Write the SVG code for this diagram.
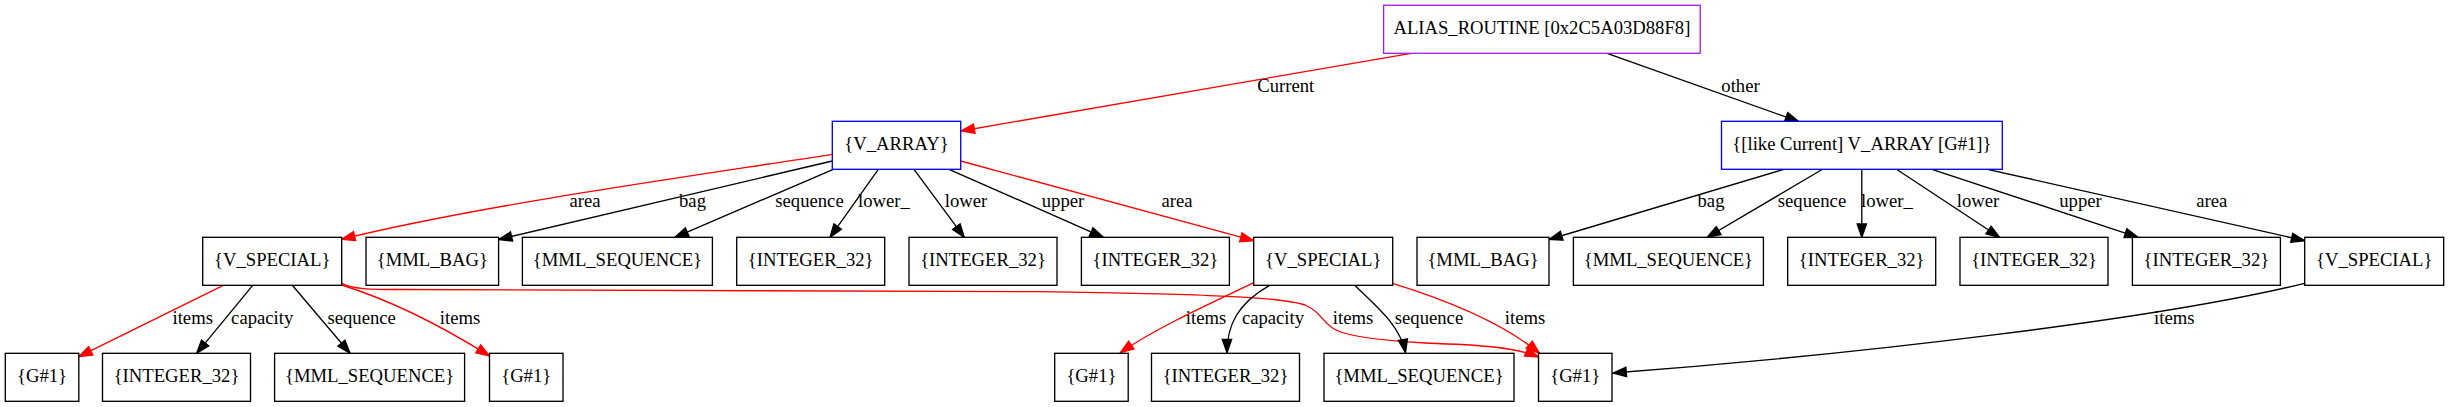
<svg xmlns="http://www.w3.org/2000/svg" width="2449" height="407" viewBox="0 0 2449 407">
<style>
  .n rect { fill: #ffffff; stroke: #000000; stroke-width: 1.33; }
  .n.blue rect { stroke: #0000ff; }
  .n.purple rect { stroke: #a020f0; }
  text { font-family: "Liberation Serif", "Times New Roman", serif; font-size: 18.67px; fill: #000000; }
  .n text { text-anchor: middle; }
  .lbl { text-anchor: middle; }
  .e { fill: none; stroke: #000000; stroke-width: 1.33; marker-end: url(#ab); }
  .e.r { stroke: #ff0000; marker-end: url(#ar); }
</style>
<defs>
  <marker id="ab" markerUnits="userSpaceOnUse" markerWidth="16" markerHeight="12" viewBox="-1 -1 16 12" refX="13.3" refY="5" orient="auto" overflow="visible">
    <path d="M0,0.33 L13.3,5 L0,9.67 Z" fill="#000000" stroke="#000000" stroke-width="1.33"/>
  </marker>
  <marker id="ar" markerUnits="userSpaceOnUse" markerWidth="16" markerHeight="12" viewBox="-1 -1 16 12" refX="13.3" refY="5" orient="auto" overflow="visible">
    <path d="M0,0.33 L13.3,5 L0,9.67 Z" fill="#ff0000" stroke="#ff0000" stroke-width="1.33"/>
  </marker>
</defs>
<rect x="0" y="0" width="2449" height="407" fill="#ffffff"/>

<g id="edges">
  <g id="e_current"><path class="e r" d="M1411.2,53.3 L961.2,131"/><text class="lbl" x="1285.7" y="91.7">Current</text></g>
  <g id="e_other"><path class="e" d="M1607.1,53.3 L1798.7,121.5"/><text class="lbl" x="1740.5" y="91.7">other</text></g>

  <g id="e_va_area1"><path class="e r" d="M832.3,154.3 C700,175 480,205 341.7,239.3"/><text class="lbl" x="585" y="207">area</text></g>
  <g id="e_va_bag"><path class="e" d="M832.3,161 L498.6,239.5"/><text class="lbl" x="692.5" y="207">bag</text></g>
  <g id="e_va_seq"><path class="e" d="M833.3,169.3 L675,237.3"/><text class="lbl" x="809.5" y="207">sequence</text></g>
  <g id="e_va_lower_"><path class="e" d="M878.3,169.3 L830,237.3"/><text class="lbl" x="884" y="207">lower_</text></g>
  <g id="e_va_lower"><path class="e" d="M914,169.3 L964.3,237.3"/><text class="lbl" x="966" y="207">lower</text></g>
  <g id="e_va_upper"><path class="e" d="M949,169.3 L1103.3,237.3"/><text class="lbl" x="1063" y="207">upper</text></g>
  <g id="e_va_area2"><path class="e r" d="M960.7,161 L1253.7,240.7"/><text class="lbl" x="1177" y="207">area</text></g>

  <g id="e_lc_bag"><path class="e" d="M1783.9,169.3 L1549,239.5"/><text class="lbl" x="1711" y="207">bag</text></g>
  <g id="e_lc_seq"><path class="e" d="M1822.5,169.3 L1707.2,237.3"/><text class="lbl" x="1812" y="207">sequence</text></g>
  <g id="e_lc_lower_"><path class="e" d="M1861.8,169.3 L1861.8,237.3"/><text class="lbl" x="1887" y="207">lower_</text></g>
  <g id="e_lc_lower"><path class="e" d="M1896.5,169.3 L1999.6,237.3"/><text class="lbl" x="1978" y="207">lower</text></g>
  <g id="e_lc_upper"><path class="e" d="M1931.9,169.3 L2138.1,237.3"/><text class="lbl" x="2080.5" y="207">upper</text></g>
  <g id="e_lc_area"><path class="e" d="M1987.4,169.3 L2304.7,240.7"/><text class="lbl" x="2211.7" y="207">area</text></g>

  <g id="e_vs1_items1"><path class="e r" d="M223.3,285.3 L78.8,356.7"/><text class="lbl" x="192.7" y="323.5">items</text></g>
  <g id="e_vs1_cap"><path class="e" d="M252.7,285.3 L196.7,353.3"/><text class="lbl" x="262.2" y="323.5">capacity</text></g>
  <g id="e_vs1_seq"><path class="e" d="M292.3,285.3 L350,353.3"/><text class="lbl" x="361.7" y="323.5">sequence</text></g>
  <g id="e_vs1_items2"><path class="e r" d="M341.7,285 C390,300 440,325 489.5,356"/><text class="lbl" x="460" y="323.5">items</text></g>
  <g id="e_vs1_items3"><path class="e r" d="M341.7,283.3 C352,289 370,289.5 400,289.5 L1040,291.7 C1180,294 1280,296 1305,305 C1322,312 1322,323 1336,330 C1352,338 1390,341 1425,343 C1480,345 1515,347 1538.5,357"/><text class="lbl" x="1353" y="323.5">items</text></g>

  <g id="e_vs2_items1"><path class="e r" d="M1253.7,282.7 C1225,297 1160,325 1120.4,352.7"/><text class="lbl" x="1206" y="323.5">items</text></g>
  <g id="e_vs2_cap"><path class="e" d="M1269.6,285.3 C1238,303 1227,325 1227,352.7"/><text class="lbl" x="1273" y="323.5">capacity</text></g>
  <g id="e_vs2_seq"><path class="e" d="M1354.6,285.3 C1375,305 1400,325 1405.5,352.7"/><text class="lbl" x="1429" y="323.5">sequence</text></g>
  <g id="e_vs2_items2"><path class="e r" d="M1392.7,283.3 C1440,298 1500,320 1539.4,353.3"/><text class="lbl" x="1525" y="323.5">items</text></g>

  <g id="e_vs3_items"><path class="e" d="M2304.7,283.3 C2155,320 1850,355 1613,373"/><text class="lbl" x="2174.3" y="323.5">items</text></g>
</g>

<g id="nodes">
  <g id="n_alias" class="n purple"><rect x="1383.6" y="5.3" width="316.6" height="48"/><text x="1541.9" y="34.2">ALIAS_ROUTINE [0x2C5A03D88F8]</text></g>
  <g id="n_varray" class="n blue"><rect x="832.3" y="121.3" width="128.4" height="48"/><text x="896.5" y="150.2">{V_ARRAY}</text></g>
  <g id="n_likecurrent" class="n blue"><rect x="1721.5" y="121.3" width="280.8" height="48"/><text x="1861.9" y="150.2">{[like Current] V_ARRAY [G#1]}</text></g>

  <g id="n_vs1" class="n"><rect x="202.7" y="237.3" width="139" height="48"/><text x="272.2" y="266.2">{V_SPECIAL}</text></g>
  <g id="n_bag1" class="n"><rect x="366" y="237.3" width="132.6" height="48"/><text x="432.3" y="266.2">{MML_BAG}</text></g>
  <g id="n_seq1" class="n"><rect x="522.4" y="237.3" width="190" height="48"/><text x="617.4" y="266.2">{MML_SEQUENCE}</text></g>
  <g id="n_int1" class="n"><rect x="736.7" y="237.3" width="148" height="48"/><text x="810.7" y="266.2">{INTEGER_32}</text></g>
  <g id="n_int2" class="n"><rect x="909" y="237.3" width="148" height="48"/><text x="983" y="266.2">{INTEGER_32}</text></g>
  <g id="n_int3" class="n"><rect x="1081.4" y="237.3" width="148" height="48"/><text x="1155.4" y="266.2">{INTEGER_32}</text></g>
  <g id="n_vs2" class="n"><rect x="1253.7" y="237.3" width="139" height="48"/><text x="1323.2" y="266.2">{V_SPECIAL}</text></g>
  <g id="n_bag2" class="n"><rect x="1417" y="237.3" width="132" height="48"/><text x="1483" y="266.2">{MML_BAG}</text></g>
  <g id="n_seq2" class="n"><rect x="1573.4" y="237.3" width="190" height="48"/><text x="1668.4" y="266.2">{MML_SEQUENCE}</text></g>
  <g id="n_int4" class="n"><rect x="1787.7" y="237.3" width="148" height="48"/><text x="1861.7" y="266.2">{INTEGER_32}</text></g>
  <g id="n_int5" class="n"><rect x="1960" y="237.3" width="148" height="48"/><text x="2034" y="266.2">{INTEGER_32}</text></g>
  <g id="n_int6" class="n"><rect x="2132.4" y="237.3" width="148" height="48"/><text x="2206.4" y="266.2">{INTEGER_32}</text></g>
  <g id="n_vs3" class="n"><rect x="2304.7" y="237.3" width="139" height="48"/><text x="2374.2" y="266.2">{V_SPECIAL}</text></g>

  <g id="n_g1" class="n"><rect x="5.3" y="353.3" width="73.5" height="48"/><text x="42" y="382.2">{G#1}</text></g>
  <g id="n_int7" class="n"><rect x="102.5" y="353.3" width="148" height="48"/><text x="176.5" y="382.2">{INTEGER_32}</text></g>
  <g id="n_seq3" class="n"><rect x="274.6" y="353.3" width="190" height="48"/><text x="369.6" y="382.2">{MML_SEQUENCE}</text></g>
  <g id="n_g2" class="n"><rect x="489.5" y="353.3" width="73.5" height="48"/><text x="526.2" y="382.2">{G#1}</text></g>
  <g id="n_g3" class="n"><rect x="1054.7" y="353.3" width="73.5" height="48"/><text x="1091.4" y="382.2">{G#1}</text></g>
  <g id="n_int8" class="n"><rect x="1151.5" y="353.3" width="148" height="48"/><text x="1225.5" y="382.2">{INTEGER_32}</text></g>
  <g id="n_seq4" class="n"><rect x="1324" y="353.3" width="190" height="48"/><text x="1419" y="382.2">{MML_SEQUENCE}</text></g>
  <g id="n_g4" class="n"><rect x="1538.5" y="353.3" width="73.5" height="48"/><text x="1575.2" y="382.2">{G#1}</text></g>
</g>
</svg>
